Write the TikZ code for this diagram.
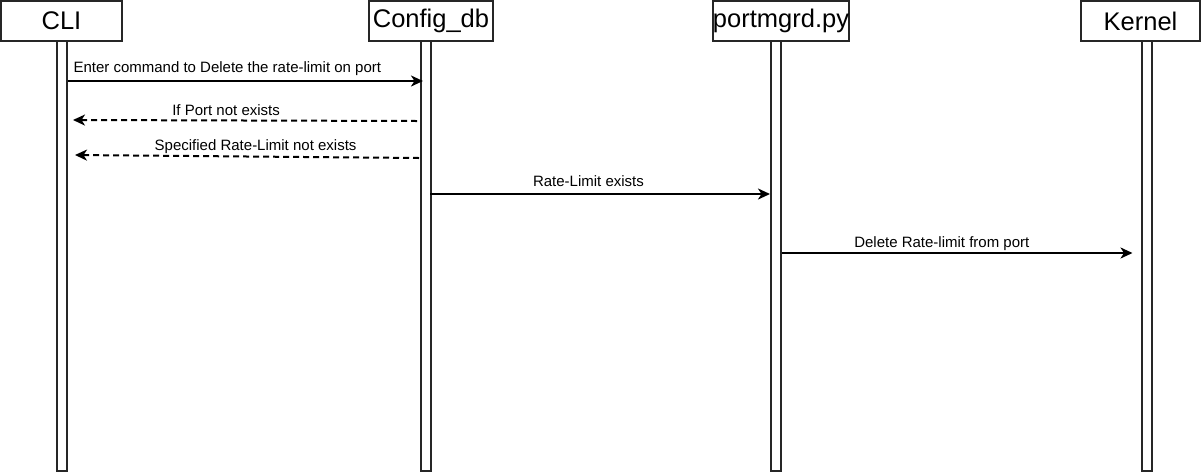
\documentclass[tikz,border=0pt]{standalone}
\usepackage{fontspec}
\setmainfont{Liberation Sans}
\usetikzlibrary{arrows.meta,calc,positioning}
\tikzset{
    actor/.style={
        rectangle,
        draw=black!85,
        line width=2pt,
        minimum height=40pt,
        inner sep=0pt,
        font=\fontsize{25.5}{30}\selectfont
    },
    life/.style={
        rectangle,
        draw=black!85,
        fill=white,
        line width=2pt,
        minimum width=10pt,
        minimum height=430pt
    },
    call/.style={
        -{Stealth[length=12pt,width=11pt,inset=3.5pt]},
        line width=2pt
    },
    reply/.style={
        call,
        dash pattern=on 6pt off 4pt
    },
    lbl/.style={
        inner sep=0pt,
        anchor=base,
        font=\fontsize{15}{18}\selectfont
    }
}
\begin{document}
\begin{tikzpicture}[x=1pt,y=-1pt]
    \useasboundingbox (0,0) rectangle (1202,472);
    \node [actor,minimum width=121pt] (cli) at (61.5,21) {CLI};
    \node [actor,minimum width=124pt] (cfg) at (431,21) {Config\_db};
    \node [actor,minimum width=136pt] (port) at (781,21) {portmgrd.py};
    \node [actor,minimum width=119pt] (kern) at (1140.5,21) {Kernel};
    \node [life] (cliL) at (61.5,256) {};
    \node [life] (cfgL) at (426,256) {};
    \node [life] (portL) at (776,256) {};
    \node [life] (kernL) at (1146.5,256) {};
    \draw [call] ($(cliL.north east)+(0,41)$) -- ($(cfgL.north west)+(3,41)$)
        node[lbl,anchor=base west,pos=0,xshift=5pt,yshift=9pt] (m1) {Enter command to Delete the rate-limit on port};
    \draw [reply] ($(cfgL.north west)+(-3,81)$) -- ($(cliL.north east)+(5.5,80)$)
        node[lbl,pos=0.555,yshift=4.5pt] (m2) {If Port not exists};
    \draw [reply] ($(cfgL.north west)+(-1,118)$) -- ($(cliL.north east)+(7.5,115)$)
        node[lbl,pos=0.475,yshift=6pt] (m3) {Specified Rate-Limit not exists};
    \draw [call] ($(cfgL.north east)+(-2,154)$) -- ($(portL.north west)+(0,154)$)
        node[lbl,pos=0.466,yshift=8pt] (m4) {Rate-Limit exists};
    \draw [call] ($(portL.north east)+(0,213)$) -- ($(kernL.north west)+(-8,213)$)
        node[lbl,pos=0.456,yshift=6pt] (m5) {Delete Rate-limit from port};
\end{tikzpicture}
\end{document}
